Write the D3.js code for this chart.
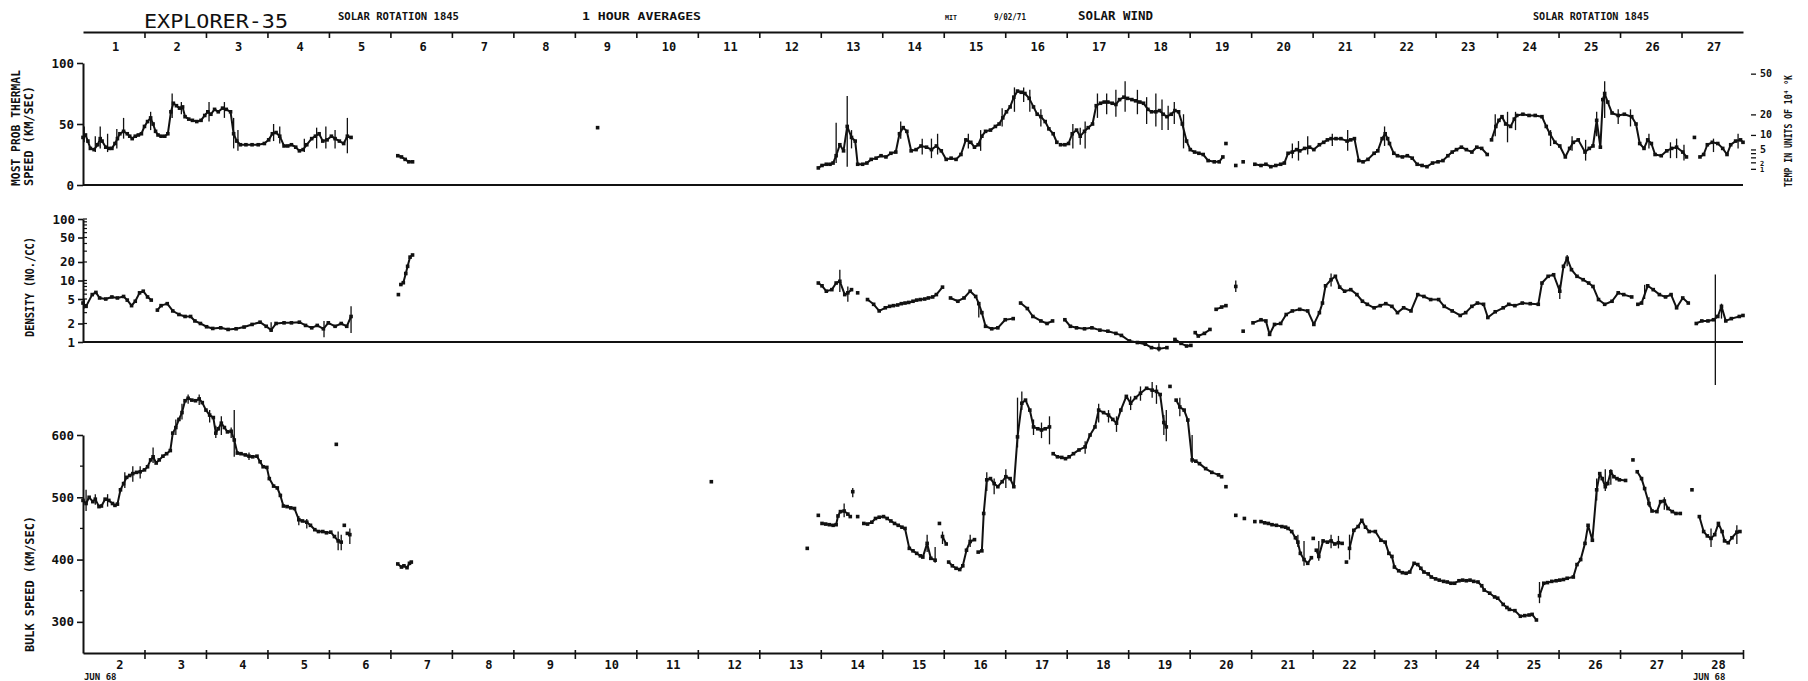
<!DOCTYPE html>
<html>
<head>
<meta charset="utf-8">
<script src="https://cdn.jsdelivr.net/npm/d3@7"></script>
<style>
  body { margin: 0; background: #fff; }
  text { font-family: "DejaVu Sans Mono", monospace; fill: #111; }
</style>
</head>
<body>
<svg id="chart" width="1808" height="681"></svg>
<script>
// time axis: days since 1 June 1968 00:00 UT (1 = June 2, 28 = June 29)
// points are [t, value]; null marks a gap in the record
var thermal = [
  [1.00,39],[1.04,41],[1.08,36],[1.12,30],[1.18,29],[1.24,33],[1.28,38],[1.31,36],[1.37,31],[1.42,30],[1.47,30],[1.52,34],[1.56,38],[1.60,42],[1.66,44],[1.72,42],[1.76,40],[1.80,38],[1.85,40],[1.90,41],[1.95,42],[2.00,48],[2.05,52],[2.10,55],[2.14,50],[2.18,44],[2.22,41],[2.27,40],[2.33,40],[2.38,42],[2.43,60],[2.47,67],[2.52,65],[2.57,63],[2.62,64],[2.66,56],[2.72,54],[2.78,53],[2.85,52],[2.92,53],[2.98,57],[3.03,60],[3.08,58],[3.14,62],[3.20,60],[3.27,63],[3.33,62],[3.40,60],[3.45,42],[3.50,36],[3.56,33],[3.65,33],[3.75,33],[3.85,33],[3.95,34],[4.02,37],[4.08,42],[4.14,43],[4.20,40],[4.27,32],[4.33,32],[4.39,33],[4.46,31],[4.52,28],[4.58,29],[4.64,33],[4.72,38],[4.78,40],[4.84,42],[4.90,36],[4.97,37],[5.04,40],[5.10,38],[5.17,36],[5.24,34],[5.30,40],[5.36,39], null,
  [6.12,24],[6.18,23],[6.24,21],[6.30,19],[6.36,19], null,
  [9.37,47], null,
  [12.96,14],[13.02,16],[13.09,17],[13.15,17],[13.20,18],[13.25,24],[13.31,33],[13.37,28],[13.43,48],[13.50,39],[13.56,36],[13.60,17],[13.68,17],[13.75,18],[13.82,21],[13.90,22],[13.98,24],[14.06,23],[14.14,26],[14.22,27],[14.28,42],[14.34,47],[14.40,44],[14.47,28],[14.55,29],[14.63,32],[14.72,31],[14.80,29],[14.88,32],[14.96,28],[15.04,21],[15.12,22],[15.20,21],[15.28,25],[15.36,37],[15.44,35],[15.50,31],[15.56,33],[15.62,40],[15.68,44],[15.76,45],[15.84,48],[15.90,50],[15.96,55],[16.02,60],[16.08,64],[16.14,72],[16.20,77],[16.26,76],[16.32,75],[16.39,71],[16.46,64],[16.52,58],[16.58,56],[16.65,52],[16.71,46],[16.78,42],[16.84,35], null,
  [16.90,33],[16.97,33],[17.03,34],[17.09,42],[17.16,45],[17.22,40],[17.29,44],[17.35,47],[17.42,50],[17.48,65],[17.55,67],[17.61,68],[17.67,68],[17.74,67],[17.80,66],[17.86,70],[17.93,72],[17.99,71],[18.06,70],[18.12,69],[18.19,68],[18.25,67],[18.32,62],[18.38,60],[18.45,60],[18.51,61],[18.57,58],[18.63,56],[18.70,58],[18.76,61],[18.82,60],[18.88,50],[18.95,36],[19.01,29],[19.08,27],[19.15,26],[19.22,25],[19.30,20],[19.40,19],[19.48,19],[19.54,23], null,
  [19.59,34], null, [19.75,16], null, [19.87,19], null,
  [20.06,17],[20.16,16],[20.24,17],[20.32,15],[20.40,16],[20.48,17],[20.54,18],[20.60,26],[20.67,27],[20.74,29],[20.79,28],[20.87,30],[20.95,31],[21.02,29],[21.11,33],[21.18,35],[21.24,37],[21.30,38],[21.38,38],[21.46,38],[21.56,36],[21.62,37],[21.68,38],[21.75,20],[21.82,19],[21.90,21],[22.00,26],[22.06,28],[22.13,38],[22.18,42],[22.22,38],[22.25,34],[22.32,26],[22.38,24],[22.46,23],[22.54,24],[22.62,22],[22.70,17],[22.78,16],[22.86,15],[22.95,18],[23.04,19],[23.12,20],[23.20,24],[23.27,27],[23.34,29],[23.42,31],[23.50,29],[23.59,27],[23.67,31],[23.75,30],[23.84,25], null,
  [23.91,37],[23.98,48],[24.03,53],[24.08,56],[24.14,50],[24.22,48],[24.28,54],[24.32,57],[24.42,58],[24.52,57],[24.62,57],[24.73,56],[24.80,48],[24.86,42],[24.94,35],[25.02,32],[25.11,23],[25.18,30],[25.24,35],[25.32,37],[25.43,27],[25.50,30],[25.56,32],[25.62,53],[25.68,31],[25.72,70],[25.75,75],[25.80,68],[25.87,59],[25.97,57],[26.07,58],[26.19,56],[26.26,50],[26.32,34],[26.39,30],[26.45,37],[26.51,34],[26.57,25],[26.67,24],[26.76,28],[26.84,30],[26.92,31],[27.02,27],[27.08,23], null,
  [27.21,39], null,
  [27.30,23],[27.36,25],[27.42,33],[27.50,35],[27.59,34],[27.67,30],[27.74,25],[27.80,33],[27.88,36],[27.96,37],[28.00,35]
];
// [t, low, high]
var thermalBars = [
  [1.02,35,48],[1.20,27,40],[1.28,30,48],[1.40,27,42],[1.55,30,46],[1.66,38,55],[2.10,45,60],[2.45,55,75],[2.60,58,68],[3.05,52,68],[3.30,55,68],[3.45,30,55],[3.52,28,45],[4.10,36,50],[4.20,34,48],[4.60,27,38],[4.80,30,47],[4.95,30,48],[5.10,30,45],[5.30,26,55],
  [13.25,18,51],[13.43,15,73],[13.50,30,45],[14.30,38,52],[14.65,25,38],[14.80,22,38],[14.90,25,42],[15.40,30,42],[15.60,28,45],[15.95,48,63],[16.15,60,80],[16.30,68,80],[16.40,60,78],[16.58,48,62],[17.10,30,50],[17.22,33,47],[17.30,30,52],[17.50,55,75],[17.65,58,75],[17.80,56,78],[17.95,60,85],[18.15,58,78],[18.30,50,72],[18.45,48,75],[18.55,45,70],[18.65,45,65],[18.75,50,68],[18.90,30,58],
  [20.67,22,34],[20.77,20,36],[20.92,25,40],[21.32,32,42],[21.57,28,45],[22.17,32,48],[23.97,40,58],[24.17,35,60],[24.30,45,60],[24.87,32,45],[25.22,28,40],[25.44,20,37],[25.62,40,60],[25.75,55,85],[25.97,50,62],[26.17,48,62],[26.47,30,42],[26.82,22,35],[26.92,22,38],[27.04,20,33],[27.52,27,38],[27.92,30,42]
];

var density = [
  [1.00,4.3],[1.05,3.8],[1.15,5.9],[1.21,6.4],[1.27,5.2],[1.37,5.0],[1.47,5.4],[1.56,5.2],[1.66,5.5],[1.72,4.8],[1.79,3.9],[1.85,4.6],[1.92,6.3],[1.98,6.7],[2.05,5.4],[2.11,4.8], null,
  [2.21,3.3],[2.27,3.9],[2.37,4.2],[2.46,3.2],[2.56,2.8],[2.66,2.6],[2.75,2.6],[2.82,2.2],[2.91,2.0],[3.01,1.77],[3.11,1.66],[3.24,1.7],[3.36,1.6],[3.49,1.64],[3.62,1.75],[3.75,1.93],[3.88,2.1],[3.98,1.8],[4.06,1.56],[4.14,2.0],[4.27,2.05],[4.39,2.05],[4.52,2.1],[4.62,1.86],[4.72,1.7],[4.81,1.86],[4.91,1.64],[4.99,2.05],[5.10,1.8],[5.20,2.0],[5.29,1.8],[5.36,2.6], null,
  [6.13,5.9], null, [6.17,8.6],[6.21,9.2],[6.25,13],[6.28,17],[6.32,24],[6.36,26], null,
  [12.96,9.1],[13.02,8.2],[13.09,6.7],[13.18,7.1],[13.25,9.1],[13.31,9.7],[13.39,5.9],[13.44,6.3],[13.50,7.1], null, [13.60,6.3], null,
  [13.76,4.9],[13.86,4.1],[13.95,3.2],[14.05,3.6],[14.12,3.8],[14.18,3.9],[14.25,4.0],[14.31,4.2],[14.37,4.3],[14.43,4.4],[14.50,4.6],[14.56,4.8],[14.62,4.9],[14.69,5.0],[14.75,5.2],[14.82,5.4],[14.88,5.9],[14.98,7.8], null,
  [15.11,5.2],[15.23,4.6],[15.33,5.2],[15.43,6.7],[15.52,5.5],[15.57,4.2],[15.62,3.0],[15.68,1.8],[15.78,1.64],[15.88,1.7],[16.00,2.3],[16.13,2.4], null,
  [16.25,4.3],[16.36,3.5],[16.45,2.6],[16.58,2.2],[16.68,2.0],[16.77,2.2], null,
  [16.97,2.3],[17.06,1.8],[17.16,1.7],[17.29,1.64],[17.41,1.7],[17.54,1.56],[17.67,1.5],[17.80,1.38],[17.89,1.28],[18.02,1.04],[18.15,0.98],[18.28,0.92],[18.38,0.81],[18.50,0.78],[18.63,0.81], null,
  [18.76,1.1],[18.86,0.95],[18.95,0.86],[19.02,0.88], null,
  [19.09,1.42],[19.14,1.25],[19.24,1.38],[19.33,1.6], null, [19.43,3.4],[19.52,3.7],[19.59,3.9], null, [19.75,8.0], null, [19.87,1.5], null,
  [20.03,2.05],[20.16,2.3],[20.24,2.2],[20.30,1.33],[20.38,1.93],[20.48,2.0],[20.57,2.8],[20.67,3.2],[20.79,3.4],[20.92,3.2],[21.02,1.93],[21.11,3.0],[21.16,4.3],[21.21,8.2],[21.30,10.3],[21.37,11.7],[21.44,7.8],[21.52,6.7],[21.62,7.1],[21.72,5.9],[21.81,4.6],[21.89,4.1],[22.00,3.6],[22.10,3.9],[22.19,4.2],[22.29,3.8],[22.38,3.0],[22.48,3.6],[22.60,3.2],[22.71,5.9],[22.81,5.5],[22.92,4.9],[23.05,4.9],[23.14,3.8],[23.27,3.2],[23.40,2.7],[23.49,3.0],[23.59,3.8],[23.68,4.3],[23.78,4.1],[23.85,2.5],[23.97,3.1],[24.10,3.6],[24.19,4.1],[24.29,3.9],[24.41,4.3],[24.54,4.2],[24.67,4.1],[24.73,9.1],[24.83,11.7],[24.92,12.4],[25.02,6.7],[25.08,17],[25.14,23],[25.21,15],[25.30,11.7],[25.40,10.3],[25.49,9.1],[25.56,8.0],[25.65,4.9],[25.75,4.1],[25.87,4.6],[25.97,6.3],[26.06,5.9],[26.19,5.4], null,
  [26.29,4.1],[26.35,4.3],[26.45,8.2],[26.54,7.1],[26.64,5.9],[26.74,5.4],[26.83,5.9],[26.92,3.6],[27.02,5.2],[27.11,4.3], null,
  [27.24,2.0],[27.33,2.2],[27.43,2.2],[27.52,2.3],[27.59,2.6],[27.65,3.8],[27.72,2.2],[27.81,2.4],[27.94,2.6],[28.00,2.7]
];
var densityBars = [
  [1.02,3.5,5],[4.06,1.45,2.1],[4.92,1.2,2.2],[5.36,1.4,3.8],[13.31,6.5,15],[13.44,4.5,8],[15.57,2.5,4.5],[18.50,0.7,0.95],
  [19.75,6.5,10],[21.30,8,13],[25.02,5,8.5],[25.14,17,26],[26.40,5,8.5],[27.55,0.2,12.5],[27.65,2.4,4.2]
];

var speed = [
  [1.00,495],[1.05,490],[1.10,500],[1.16,493],[1.20,497],[1.26,485],[1.30,486],[1.36,497],[1.42,495],[1.48,490],[1.52,487],[1.56,489],[1.61,512],[1.66,522],[1.71,532],[1.76,535],[1.81,538],[1.87,540],[1.93,541],[2.00,544],[2.05,549],[2.10,560],[2.14,565],[2.19,555],[2.24,560],[2.30,566],[2.36,570],[2.42,575],[2.46,603],[2.51,612],[2.56,625],[2.61,636],[2.66,655],[2.71,659],[2.77,656],[2.83,655],[2.89,658],[2.94,652],[3.00,640],[3.06,632],[3.12,628],[3.16,603],[3.20,610],[3.25,619],[3.30,612],[3.35,605],[3.41,606],[3.46,592],[3.51,571],[3.57,570],[3.64,568],[3.70,566],[3.76,565],[3.83,566],[3.88,557],[3.93,549],[3.99,548],[4.03,530],[4.10,518],[4.16,515],[4.21,503],[4.26,486],[4.32,485],[4.38,483],[4.44,482],[4.51,464],[4.57,462],[4.64,460],[4.70,455],[4.77,448],[4.83,445],[4.90,445],[4.96,443],[5.03,444],[5.09,437],[5.15,430],[5.20,428], null,
  [5.25,455], null, [5.30,442],[5.34,440], null, [5.12,585], null,
  [6.12,393],[6.18,388],[6.22,390],[6.27,387],[6.31,394],[6.34,396], null,
  [11.22,525], null, [12.78,418], null, [12.96,471], null,
  [13.02,458],[13.08,457],[13.14,456],[13.20,455],[13.25,456],[13.28,470],[13.32,477],[13.38,478],[13.44,473],[13.48,469], null, [13.52,509], null, [13.60,469], null,
  [13.70,458],[13.76,457],[13.83,460],[13.89,466],[13.95,468],[14.02,469],[14.08,466],[14.14,462],[14.20,458],[14.26,455],[14.32,452],[14.37,450],[14.44,418],[14.50,414],[14.56,410],[14.62,406],[14.66,404],[14.73,426],[14.79,402],[14.86,399], null, [14.93,458], null,
  [14.98,437],[15.04,425], null,
  [15.08,396],[15.14,390],[15.20,386],[15.26,384],[15.31,390],[15.37,415],[15.43,429],[15.50,432], null,
  [15.56,412],[15.62,414],[15.65,474],[15.70,528],[15.76,530],[15.82,522],[15.88,517],[15.95,525],[16.01,533],[16.08,530],[16.14,517],[16.20,597],[16.27,651],[16.33,656],[16.40,640],[16.46,613],[16.53,610],[16.59,608],[16.65,610],[16.72,613], null,
  [16.78,570],[16.85,565],[16.92,564],[16.98,562],[17.04,565],[17.11,570],[17.20,576],[17.30,581],[17.38,600],[17.46,613],[17.52,640],[17.60,636],[17.68,632],[17.75,625],[17.81,619],[17.88,640],[17.97,662],[18.04,651],[18.12,660],[18.20,667],[18.30,675],[18.39,672],[18.46,670],[18.52,665],[18.58,620],[18.62,613], null, [18.68,678], null,
  [18.78,656],[18.84,645],[18.91,640],[18.97,624],[19.04,560],[19.10,558],[19.16,554],[19.26,546],[19.36,540],[19.47,536],[19.52,533], null,
  [19.59,517], null, [19.75,471], null, [19.89,466], null, [20.06,461], null,
  [20.16,461],[20.22,459],[20.28,458],[20.34,456],[20.41,455],[20.50,453],[20.56,452],[20.60,450],[20.66,445],[20.72,435],[20.76,428],[20.80,410],[20.86,400],[20.92,394],[20.98,403], null, [21.01,434], null,
  [21.06,415],[21.10,405],[21.17,430],[21.24,428],[21.30,430],[21.36,425],[21.42,427],[21.48,426], null, [21.55,396], null,
  [21.60,418],[21.67,447],[21.74,453],[21.80,463],[21.86,452],[21.92,445],[22.02,445],[22.11,431],[22.18,428],[22.24,410],[22.29,405],[22.33,388],[22.40,382],[22.46,379],[22.52,378],[22.58,380],[22.65,394],[22.71,392],[22.76,386],[22.81,380],[22.88,377],[22.93,372],[23.00,369],[23.06,367],[23.13,365],[23.19,364],[23.25,362],[23.31,362],[23.38,366],[23.44,367],[23.50,366],[23.56,367],[23.62,365],[23.69,364],[23.75,358],[23.79,351],[23.88,346],[23.96,340],[24.01,338],[24.10,328],[24.16,323],[24.20,320],[24.29,318],[24.38,309],[24.45,310],[24.52,311],[24.57,312],[24.64,303], null,
  [24.69,342],[24.76,362],[24.82,363],[24.89,365],[24.96,366],[25.02,367],[25.08,368],[25.14,370],[25.24,372],[25.30,392],[25.36,400],[25.43,426],[25.48,455],[25.55,431],[25.62,512],[25.67,538],[25.71,530],[25.76,517],[25.80,522],[25.85,541],[25.90,533],[25.95,530],[25.99,528],[26.09,527], null, [26.21,560], null,
  [26.28,541],[26.35,530],[26.40,514],[26.47,490],[26.52,478],[26.60,477],[26.66,493],[26.72,494],[26.78,482],[26.85,477],[26.91,474],[26.98,474], null, [27.17,512], null,
  [27.29,469],[27.36,445],[27.42,438],[27.48,434],[27.54,440],[27.60,458],[27.66,445],[27.70,430],[27.76,427],[27.82,435],[27.90,444],[27.95,445]
];
var speedBars = [
  [1.05,478,512],[1.20,488,505],[1.40,485,505],[1.68,515,540],[1.81,525,550],[1.93,530,550],[2.14,555,580],[2.51,600,625],[2.61,625,650],[2.71,650,665],[2.89,648,665],[3.06,620,640],[3.16,595,615],[3.25,600,630],[3.41,595,612],[3.46,565,640],[3.70,560,572],[4.51,455,470],[4.64,450,465],[5.15,415,445],[5.20,415,440],[5.34,425,450],
  [13.38,468,490],[13.52,500,515],[14.73,412,440],[14.86,395,420],[14.98,425,445],[15.43,420,440],[15.70,510,540],[15.82,505,530],[16.01,515,545],[16.20,580,660],[16.27,640,670],[16.46,600,625],[16.59,595,620],[16.72,585,630],[17.30,570,590],[17.52,620,650],[17.68,620,640],[17.81,605,630],[18.04,640,662],[18.20,655,678],[18.39,660,685],[18.46,650,680],[18.58,600,632],[18.62,590,640],[18.84,630,660],[19.04,555,600],
  [20.76,420,440],[20.86,390,430],[21.10,398,430],[21.30,418,440],[21.42,418,438],[21.60,400,440],[24.69,330,364],[25.62,495,530],[25.76,510,545],[25.85,520,545],[26.47,485,500],[26.72,480,500],[27.48,420,450],[27.90,425,455]
];

var rotationDays = d3.range(1, 28);          // top labels 1..27
var juneDays = d3.range(2, 29);              // bottom labels 2..28
var dayTicks = d3.range(2, 29);              // midnights
var thermalTicks = [0, 50, 100];
var densityTicks = [1, 2, 5, 10, 20, 50, 100];
var speedTicks = [300, 400, 500, 600];
var speedMinor = [350, 450, 550];
var tempTicks = [1, 2, 3, 4, 5, 10, 20, 50];
var tempLabels = [1, 2, 5, 10, 20, 50];

var svg = d3.select("#chart");
var ink = "#111";

var x = d3.scaleLinear().domain([1, 28]).range([83, 1743]);
var y1 = d3.scaleLinear().domain([0, 100]).range([185, 63]);
var y2 = d3.scaleLog().domain([1, 100]).range([342, 219]);
var y3 = d3.scaleLinear().domain([250, 600]).range([653, 435]);

// temperature (1e4 K) -> most probable thermal speed (km/s), T = m w^2 / 2k
function tempToSpeed(T) { return Math.sqrt(T / 0.006057); }

function styleAxis(g, size) {
  g.attr("font-family", "DejaVu Sans Mono, monospace").attr("font-size", size).attr("font-weight", "bold");
  g.selectAll("path.domain").attr("stroke", ink).attr("stroke-width", 2);
  g.selectAll(".tick line").attr("stroke", ink).attr("stroke-width", 1.6);
  g.selectAll(".tick text").attr("fill", ink);
}

// header
function header(txt, xx, yy, size, len, weight) {
  svg.append("text").attr("x", xx).attr("y", yy).attr("font-size", size)
    .attr("font-weight", weight || "bold")
    .attr("textLength", len).attr("lengthAdjust", "spacingAndGlyphs").text(txt);
}
header("EXPLORER-35", 144, 28, 20, 144, "normal");
header("SOLAR ROTATION 1845", 338, 20, 11, 121);
header("1 HOUR AVERAGES", 582, 20, 11, 119);
header("MIT", 945, 20, 7, 12);
header("9/02/71", 994, 20, 8, 32);
header("SOLAR WIND", 1078, 20, 12, 75);
header("SOLAR ROTATION 1845", 1533, 20, 11, 116);

// top axis (rotation days)
var topAxis = svg.append("g").attr("transform", "translate(0,32)")
  .call(d3.axisBottom(x).tickValues(dayTicks.slice(0, -1)).tickSize(6).tickSizeOuter(0).tickFormat(""));
styleAxis(topAxis, 12);
svg.append("g").selectAll("text").data(rotationDays).enter().append("text")
  .attr("x", function(d) { return x(d + 0.53); }).attr("y", 51)
  .attr("text-anchor", "middle").attr("font-size", 12).attr("font-weight", "bold")
  .text(function(d) { return d; });

// panel 1: thermal speed
var ax1 = svg.append("g").attr("transform", "translate(83,0)")
  .call(d3.axisLeft(y1).tickValues(thermalTicks).tickSize(6).tickSizeOuter(0).tickPadding(3));
styleAxis(ax1, 12.5);
svg.append("line").attr("x1", 83).attr("x2", 1743).attr("y1", y1(0)).attr("y2", y1(0))
  .attr("stroke", ink).attr("stroke-width", 2);

// right temperature scale
var tg = svg.append("g");
tg.selectAll("line").data(tempTicks).enter().append("line")
  .attr("x1", 1751).attr("x2", 1756)
  .attr("y1", function(d) { return y1(tempToSpeed(d)); })
  .attr("y2", function(d) { return y1(tempToSpeed(d)); })
  .attr("stroke", ink).attr("stroke-width", 1.3);
tg.selectAll("text").data(tempLabels).enter().append("text")
  .attr("x", 1760).attr("y", function(d) { return y1(tempToSpeed(d)) + 3; })
  .attr("font-size", function(d) { return d < 5 ? 7 : 10; }).attr("font-weight", "bold")
  .text(function(d) { return d; });
svg.append("text").attr("transform", "translate(1792,131) rotate(-90)")
  .attr("text-anchor", "middle").attr("font-size", 10).attr("font-weight", "bold")
  .attr("textLength", 112).attr("lengthAdjust", "spacingAndGlyphs")
  .text("TEMP IN UNITS OF 10\u2074 \u00B0K");

// panel 2: density (log)
var ax2 = svg.append("g").attr("transform", "translate(83,0)")
  .call(d3.axisLeft(y2).tickValues(densityTicks).tickSize(5).tickSizeOuter(0).tickPadding(3).tickFormat(d3.format("d")));
styleAxis(ax2, 12.5);
var minorDensity = d3.range(1, 10).concat(d3.range(10, 101, 10));
svg.append("g").selectAll("line").data(minorDensity).enter().append("line")
  .attr("x1", 83).attr("x2", 87)
  .attr("y1", function(d) { return y2(d); }).attr("y2", function(d) { return y2(d); })
  .attr("stroke", ink).attr("stroke-width", 1.2);
svg.append("line").attr("x1", 83).attr("x2", 1743).attr("y1", y2(1)).attr("y2", y2(1))
  .attr("stroke", ink).attr("stroke-width", 2);

// panel 3: bulk speed
var ax3 = svg.append("g").attr("transform", "translate(83,0)")
  .call(d3.axisLeft(y3).tickValues(speedTicks).tickSize(6).tickSizeOuter(0).tickPadding(3));
styleAxis(ax3, 12.5);
svg.append("g").selectAll("line").data(speedMinor).enter().append("line")
  .attr("x1", 80).attr("x2", 83)
  .attr("y1", function(d) { return y3(d); }).attr("y2", function(d) { return y3(d); })
  .attr("stroke", ink).attr("stroke-width", 1.3);

var bottomAxis = svg.append("g").attr("transform", "translate(0," + y3(250) + ")")
  .call(d3.axisBottom(x).tickValues(dayTicks).tickSize(6).tickSizeOuter(0).tickFormat(""));
styleAxis(bottomAxis, 12);
bottomAxis.selectAll(".tick line").attr("y1", -3);
svg.append("g").selectAll("text").data(juneDays).enter().append("text")
  .attr("x", function(d) { return x(d - 0.4); }).attr("y", 669)
  .attr("text-anchor", "middle").attr("font-size", 12).attr("font-weight", "bold")
  .text(function(d) { return d; });
svg.append("text").attr("x", x(1.28)).attr("y", 680).attr("text-anchor", "middle")
  .attr("font-size", 9).attr("font-weight", "bold").text("JUN  68");
svg.append("text").attr("x", x(27.45)).attr("y", 680).attr("text-anchor", "middle")
  .attr("font-size", 9).attr("font-weight", "bold").text("JUN  68");

// axis titles
function vtitle(txt, xx, yy, len) {
  svg.append("text").attr("transform", "translate(" + xx + "," + yy + ") rotate(-90)")
    .attr("text-anchor", "middle").attr("font-size", 11.5).attr("font-weight", "bold")
    .attr("textLength", len).attr("lengthAdjust", "spacingAndGlyphs").text(txt);
}
vtitle("MOST PROB THERMAL", 20, 128, 116);
vtitle("SPEED (KM/SEC)", 33, 136, 100);
vtitle("DENSITY (NO./CC)", 34, 287, 100);
vtitle("BULK SPEED (KM/SEC)", 34, 584, 136);

// series
function drawSeries(data, bars, y) {
  var g = svg.append("g");
  g.selectAll("line").data(bars).enter().append("line")
    .attr("x1", function(d) { return x(d[0]); }).attr("x2", function(d) { return x(d[0]); })
    .attr("y1", function(d) { return y(d[1]); }).attr("y2", function(d) { return y(d[2]); })
    .attr("stroke", ink).attr("stroke-width", 1.3);
  var line = d3.line().defined(function(d) { return d !== null; })
    .x(function(d) { return x(d[0]); }).y(function(d) { return y(d[1]); });
  g.append("path").attr("d", line(data)).attr("fill", "none")
    .attr("stroke", ink).attr("stroke-width", 2).attr("stroke-linejoin", "round");
  g.selectAll("rect").data(data.filter(function(d) { return d !== null; })).enter().append("rect")
    .attr("x", function(d) { return x(d[0]) - 1.8; }).attr("y", function(d) { return y(d[1]) - 1.8; })
    .attr("width", 3.6).attr("height", 3.6).attr("fill", ink);
}
drawSeries(thermal, thermalBars, y1);
drawSeries(density, densityBars, y2);
drawSeries(speed, speedBars, y3);
</script>
</body>
</html>
